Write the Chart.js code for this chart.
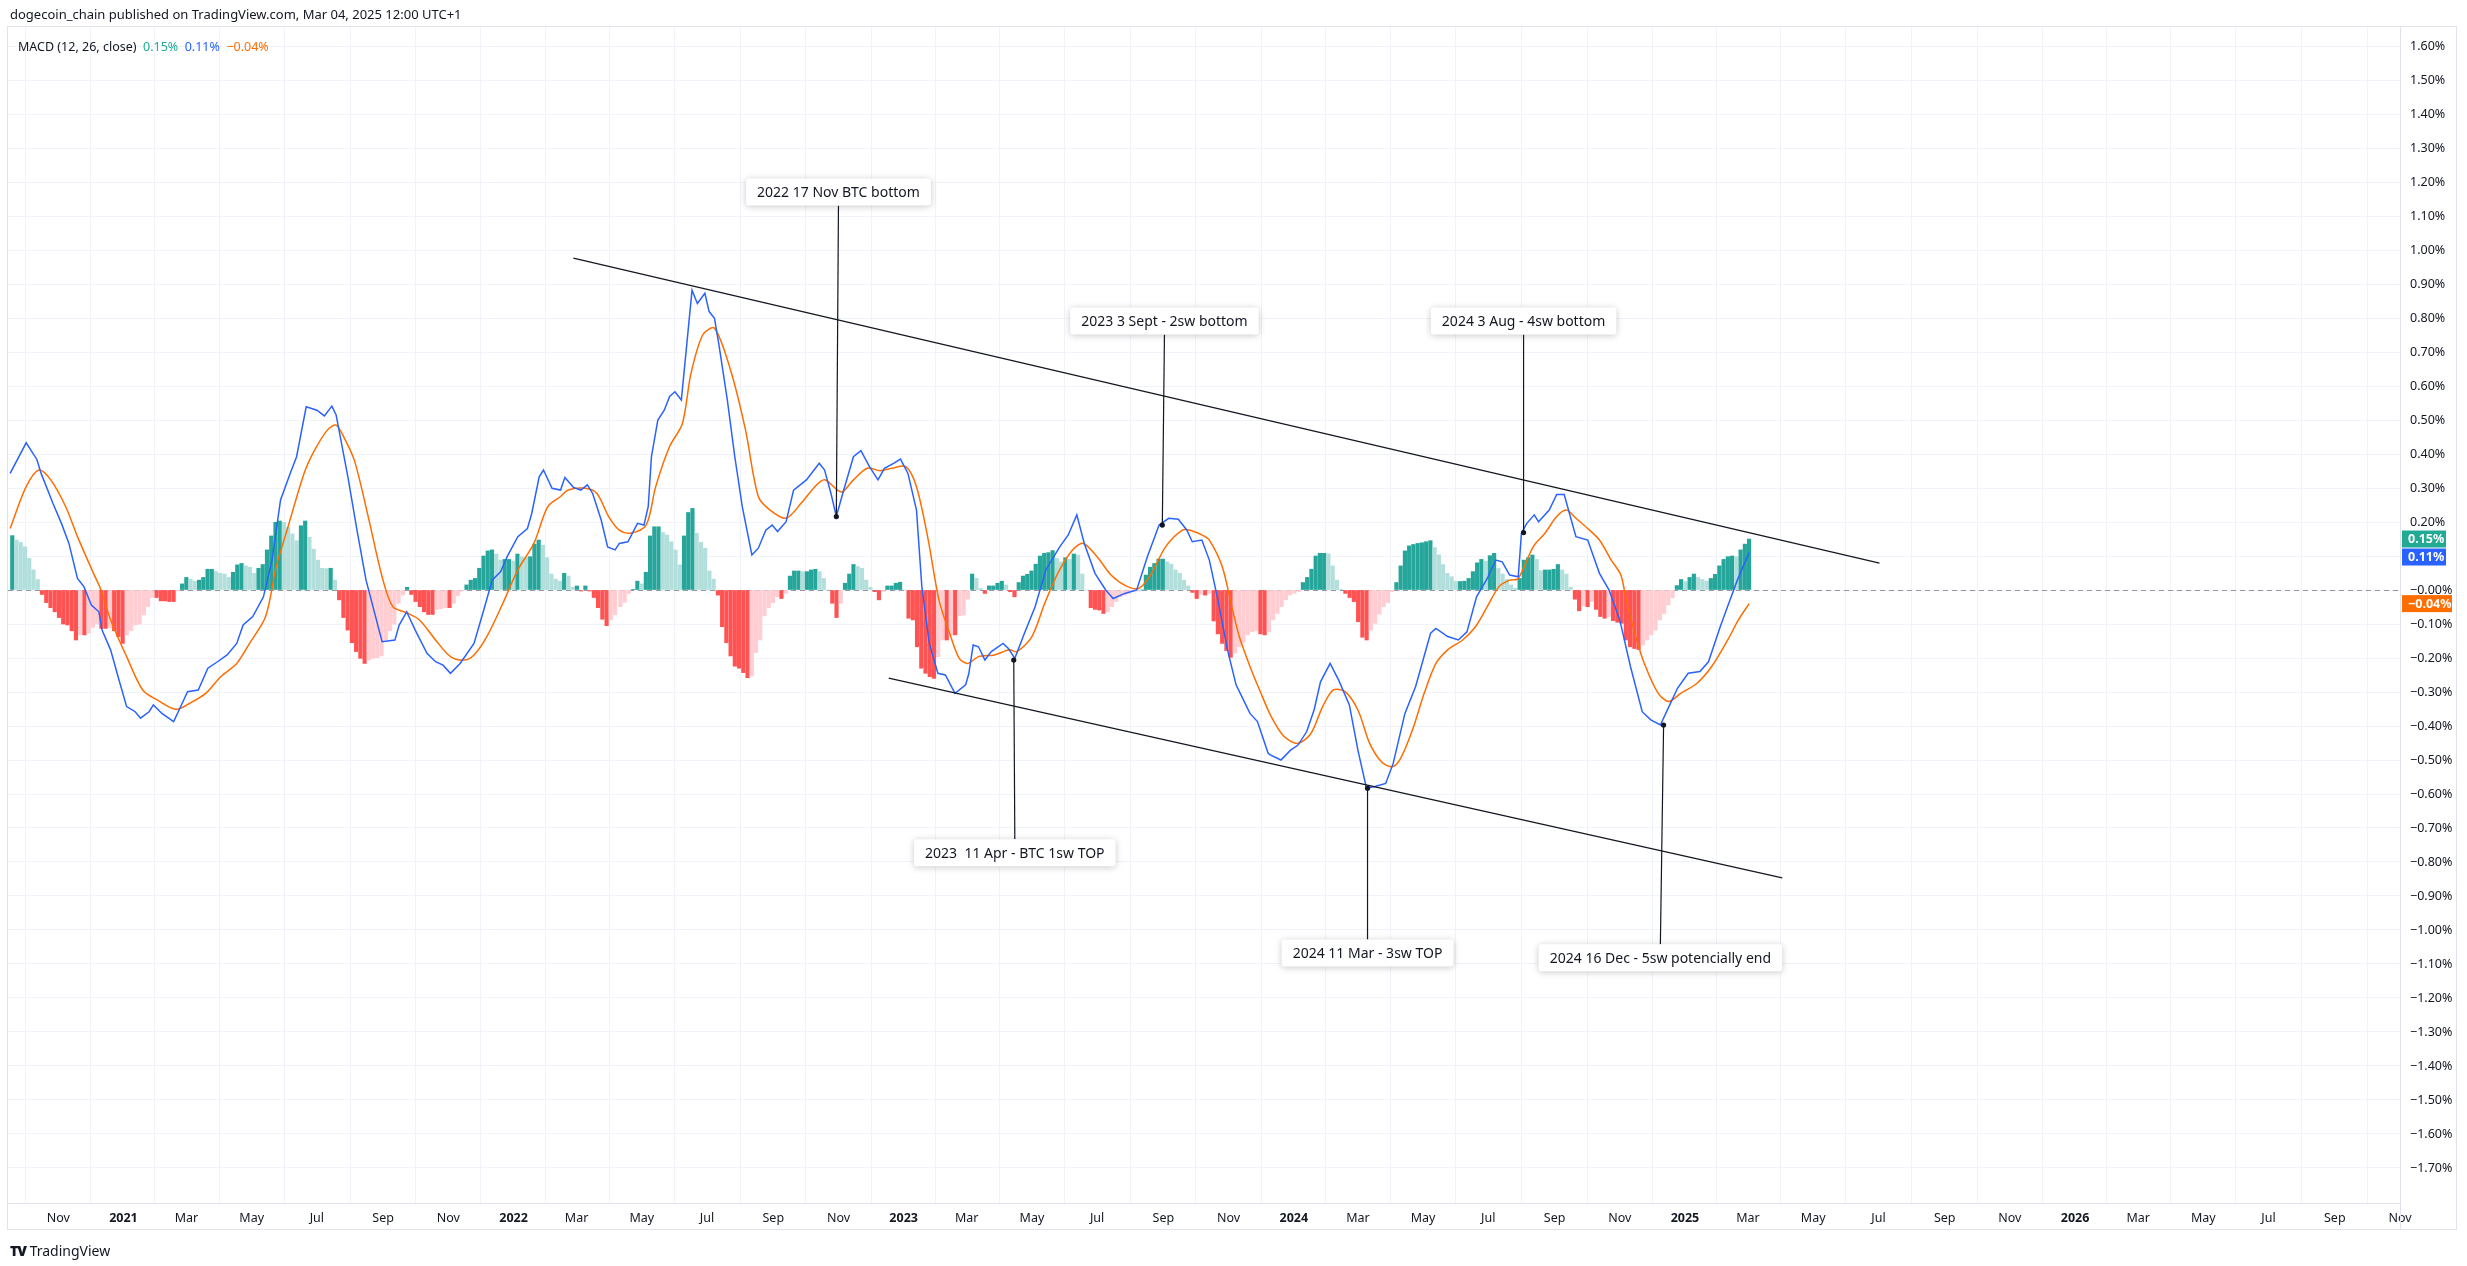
<!DOCTYPE html>
<html><head><meta charset="utf-8">
<script src="https://cdn.jsdelivr.net/npm/chart.js@4.4.1/dist/chart.umd.min.js"></script>
<style>
html,body{margin:0;padding:0;background:#fff;width:2467px;height:1266px;overflow:hidden;font-family:"Noto Sans",sans-serif;color:#131722}
#c{position:absolute;left:0;top:0}
.t{position:absolute;white-space:pre}
</style></head><body>
<canvas id="c" width="2467" height="1266"></canvas>
<div class="t" style="left:10px;top:5px;font-size:13px">dogecoin_chain published on TradingView.com, Mar 04, 2025 12:00 UTC+1</div>
<div class="t" style="left:18px;top:38px;font-size:12.5px">MACD (12, 26, close)  <span style="color:#22ab94">0.15%</span>  <span style="color:#2962ff">0.11%</span>  <span style="color:#ff6d00">−0.04%</span></div>
<div class="t" style="left:10px;top:1241px;font-size:14px"><b style="font-weight:900;letter-spacing:-1px">TV</b> TradingView</div>
<script>
// x values are days counted from 2021-01-01
const tickDays=[-61,0,59,120,181,243,304,365,424,485,546,608,669,730,789,850,911,973,1034,1095,1155,1216,1277,1339,1400,1461,1520,1581,1642,1704,1765,1826,1885,1946,2007,2069,2130];
const tickLabels=["Nov","2021","Mar","May","Jul","Sep","Nov","2022","Mar","May","Jul","Sep","Nov","2023","Mar","May","Jul","Sep","Nov","2024","Mar","May","Jul","Sep","Nov","2025","Mar","May","Jul","Sep","Nov","2026","Mar","May","Jul","Sep","Nov"];

const macdDays=[-106,-91,-81,-77,-66,-58,-51,-43,-37,-30,-23,-20,-12,-5,3,11,16,24,28,36,47,55,60,70,79,88,97,106,112,121,131,139,147,156,162,171,181,188,195,199,210,219,227,242,254,258,265,273,284,292,299,306,315,328,338,345,353,359,369,378,382,389,393,401,409,413,421,428,434,439,447,453,460,464,
472,481,487,491,494,500,506,511,516,522,532,537,544,548,553,557,565,572,579,588,594,601,607,612,620,627,639,651,656,662,667,673,683,690,698,706,712,721,727,734,742,747,754,762,769,778,788,791,795,800,806,812,823,828,834,843,853,863,876,884,892,899,909,919,926,937,948,958,969,978,987,995,1000,1009,1016,
1024,1033,1041,1048,1054,1061,1071,1073,1083,1092,1099,1107,1114,1120,1129,1137,1147,1155,1163,1171,1181,1188,1199,1209,1223,1228,1239,1249,1257,1266,1276,1284,1290,1297,1305,1308,1313,1320,1324,1334,1341,1348,1359,1370,1381,1390,1400,1410,1421,1429,1438,1446,1454,1464,1475,1483,1494,1502,1510,1521];
const macdVals=[.343,.433,.384,.343,.255,.196,.137,.034,.01,-.044,-.064,-.118,-.176,-.255,-.343,-.358,-.377,-.358,-.338,-.363,-.387,-.333,-.299,-.294,-.230,-.211,-.191,-.157,-.103,-.078,-.02,.088,.265,.343,.392,.539,.529,.512,.541,.515,.333,.167,.029,-.152,-.147,-.103,-.064,-.118,-.186,-.211,-.221,-.245,-.216,-.157,-.049,.029,.054,.098,.157,.181,.225,.333,.353,.299,.294,.331,.302,.294,.309,.284,.206,.127,.118,.137,
.142,.196,.191,.245,.392,.5,.529,.569,.583,.559,.882,.843,.873,.819,.799,.725,.559,.392,.245,.103,.123,.176,.191,.172,.201,.294,.324,.373,.353,.284,.216,.284,.392,.410,.363,.324,.358,.373,.385,.343,.235,.01,-.157,-.245,-.250,-.304,-.279,-.245,-.162,-.167,-.206,-.181,-.157,-.172,-.201,-.127,-.049,.059,.127,.162,.221,.137,.049,0,-.025,-.01,0,.098,.191,.211,.208,.176,.142,.147,.088,
-.029,-.176,-.279,-.324,-.363,-.387,-.480,-.485,-.5,-.471,-.456,-.417,-.353,-.270,-.216,-.265,-.338,-.471,-.583,-.578,-.569,-.510,-.363,-.284,-.127,-.113,-.137,-.147,-.123,-.020,.034,.088,.083,.044,.039,.167,.196,.221,.201,.235,.281,.281,.157,.147,.049,0,-.088,-.225,-.358,-.382,-.397,-.343,-.289,-.245,-.240,-.211,-.108,-.039,.029,.11];

const signalDays=[-106,-91,-79,-68,-54,-43,-28,-21,-12,3,18,32,49,62,77,91,106,118,133,143,154,169,179,191,199,206,216,229,242,252,265,277,292,306,319,328,340,355,369,384,397,409,416,432,443,454,464,
474,489,498,511,523,531,542,553,568,582,594,605,620,634,647,656,668,673,683,696,708,719,732,742,753,763,773,782,790,800,815,829,836,850,862,875,888,898,911,924,938,950,961,975,990,998,1009,1016,
1028,1037,1044,1054,1063,1074,1086,1099,1111,1122,1132,1143,1155,1166,1177,1187,1195,1206,1217,1228,1239,1253,1265,1276,1287,1297,1305,1319,1330,1341,1350,1359,1370,1381,1392,1401,1406,1414,1423,1436,1446,1457,1472,1486,1501,1511,1521];
const signalVals=[.181,.304,.353,.324,.245,.157,.049,0,-.088,-.196,-.294,-.324,-.351,-.333,-.304,-.255,-.216,-.157,-.078,.069,.186,.343,.412,.471,.485,.451,.382,.216,.039,-.049,-.067,-.088,-.147,-.196,-.206,-.191,-.137,-.039,.059,.137,.245,.275,.294,.299,.284,.216,.176,
.167,.191,.304,.422,.490,.637,.75,.770,.647,.471,.275,.235,.211,.255,.304,.324,.294,.289,.324,.358,.351,.358,.363,.304,.147,-.029,-.127,-.201,-.216,-.196,-.191,-.176,-.181,-.137,-.039,.054,.118,.137,.098,.044,.012,.005,.044,.127,.175,.176,.162,.147,
.069,-.049,-.137,-.225,-.294,-.373,-.431,-.451,-.422,-.343,-.294,-.299,-.353,-.451,-.505,-.520,-.495,-.412,-.304,-.216,-.176,-.147,-.108,-.049,.010,.029,.034,.127,.167,.216,.235,.211,.181,.147,.088,.044,-.029,-.127,-.216,-.304,-.328,-.304,-.275,-.225,-.147,-.088,-.04];

// histogram: three runs of evenly spaced bars (first day, last day, values)
const histA=[.16,.147,.14,.127,.093,.059,.031,
-.013,-.037,-.052,-.064,-.081,-.10,-.103,-.12,-.147,
-.132,-.132,-.127,-.11,-.10,-.113,-.113,-.11,-.12,
-.137,-.157,-.132,-.12,-.103,-.10,-.073,-.049,-.022,-.022,
-.032,-.032,-.034,-.034,-.003,.018,.037,.032,.026,.029,
.037,.061,.061,.054,.049,.047,.037,.052,.074,.078,
.071,.067,.049,.064,.075,.118,.159,.199,.203,.199,
.184,.165,.145,.189,.203,.155,.12,.088,.064,.063,
.064,.029,-.029,-.081,-.118,-.155,-.181,-.201,-.216,-.206,
-.201,-.199,-.194,-.147,-.12,-.10,-.039,-.015,.008,-.013,
-.034,-.049,-.064,-.072,-.072,-.057,-.055,-.052,-.052,-.039,
-.017,-.003,.015,.029,.034,.064,.10,.115,.118,.106,
.088,.09,.09,.085,.106,.098,.096,.098,.135,.147,
.132,.095,.047,.032,.026,.049,.041,.008,.012,-.003,
.012,-.003,-.022,-.052,-.086,-.105,-.088,-.073];
const histADays=[-104,460];
const histB=[-.049,-.036,-.01,.002,.026,.018,.052,.159,.186,.186,
.169,.162,.142,.118,.074,.159,.228,.24,.167,.14,
.123,.056,.032,-.015,-.108,-.155,-.194,-.224,-.23,-.243,
-.258,-.253,-.184,-.147,-.076,-.052,-.037,-.02,-.025,-.01,
.041,.056,.056,.054,.054,.059,.061,.054,.034,0,
-.039,-.081,-.039,.02,.047,.075,.069,.064,.029,.008,
-.005,-.029,-.004,.012,.012,.02,.023,0,-.083,-.088,
-.167,-.23,-.245,-.255,-.26,-.196,-.147,-.147,-.132,-.132,
-.076,-.074,-.027,.047,.034,.005,-.01,.012,.012,.02,
.026,.015,-.005,-.02,.022,.041,.046,.056,.076,.10,
.108,.11,.116,.093,.083,.095,.09,.106,.103,.047,
0,-.052,-.057,-.059,-.069,-.064,-.049,-.034,-.02,-.015,
-.01,-.005,-.003,0,.044,.067,.078,.091,.091,.083,
.076,.059,.049,.029,.012,-.007,-.025,-.013,-.015,-.01,
-.091,-.129];
const histBDays=[465,1024];
const histC=[-.157,-.178,-.198,-.186,-.167,-.154,-.132,-.123,-.120,-.129,
-.132,-.123,-.088,-.069,-.049,-.029,-.015,-.01,-.005,.022,
.037,.061,.10,.108,.108,.106,.071,.029,.002,-.01,
-.022,-.034,-.093,-.139,-.147,-.118,-.098,-.071,-.049,-.037,
-.005,.022,.071,.115,.130,.134,.137,.139,.142,.145,
.125,.103,.075,.049,.039,.025,.025,.026,.034,.054,
.080,.090,.085,.101,.108,.064,.047,.031,.015,.005,
.034,.088,.095,.103,.090,.057,.059,.059,.061,.075,
.059,.047,.008,-.027,-.061,-.047,-.049,-.034,-.057,-.078,
-.083,-.078,-.090,-.095,-.098,-.147,-.167,-.172,-.175,-.162,
-.147,-.132,-.118,-.088,-.069,-.044,-.023,.013,.031,.025,
.037,.047,.037,.031,.026,.034,.046,.071,.090,.098,
.10,.098,.118,.135,.15];
const histCDays=[1028,1521];

// trend lines [day, value] pairs
const upperTrend=[[421,.976],[1643,.079]];
const lowerTrend=[[716,-.259],[1552,-.847]];
// annotations: text, label day, label value, point day, point value
const noteTexts=["2022 17 Nov BTC bottom","2023 3 Sept - 2sw bottom","2024 3 Aug - 4sw bottom","2023  11 Apr - BTC 1sw TOP","2024 11 Mar - 3sw TOP","2024 16 Dec - 5sw potencially end"];
const noteLabelDays=[669,974,1310,834,1164,1438];
const noteLabelVals=[1.171,.791,.791,-.773,-1.068,-1.082];
const notePointDays=[667,972,1310,833,1164,1441];
const notePointVals=[.216,.191,.169,-.206,-.583,-.397];
const lastVals={hist:.15,macd:.11,signal:-.04};

const C_UP='#26a69a',C_UPL='#b2dfdb',C_DN='#ff5252',C_DNL='#ffcdd2';
function pts(d,v){return d.map((x,i)=>({x,y:v[i]}));}
const histPts=[];
[[histA,histADays],[histB,histBDays],[histC,histCDays]].forEach(([vals,[s,e]])=>{
  const st=(e-s)/(vals.length-1);
  vals.forEach((v,i)=>histPts.push({x:s+i*st,y:v}));
});
const histColors=histPts.map((p,i)=>{
  const prev=i>0?histPts[i-1].y:p.y;
  if(p.y>=0) return p.y>=prev?C_UP:C_UPL;
  return p.y<=prev?C_DN:C_DNL;
});
const FONT='"Noto Sans", sans-serif';
function fmt(v){const s=Math.abs(v).toFixed(2)+'%';return v<0?'\u2212'+s:s;}

const deco={
  id:'deco',
  beforeDatasetsDraw(ch){
    const {ctx,chartArea:a,scales:{x,y}}=ch;
    ctx.save();
    ctx.strokeStyle='#9598a1';ctx.lineWidth=1;ctx.setLineDash([5,4]);
    const y0=Math.round(y.getPixelForValue(0))+0.5;
    ctx.beginPath();ctx.moveTo(a.left,y0);ctx.lineTo(a.right,y0);ctx.stroke();
    ctx.restore();
  },
  afterDatasetsDraw(ch){
    const {ctx,chartArea:a,scales:{x,y}}=ch;
    ctx.save();
    ctx.beginPath();ctx.rect(a.left,a.top,a.right-a.left,a.bottom-a.top);ctx.clip();
    ctx.strokeStyle='#131722';ctx.lineWidth=1.3;
    [upperTrend,lowerTrend].forEach(t=>{
      ctx.beginPath();ctx.moveTo(x.getPixelForValue(t[0][0]),y.getPixelForValue(t[0][1]));
      ctx.lineTo(x.getPixelForValue(t[1][0]),y.getPixelForValue(t[1][1]));ctx.stroke();
    });
    ctx.font='14px '+FONT;
    noteTexts.forEach((txt,i)=>{
      const lx=x.getPixelForValue(noteLabelDays[i]),ly=y.getPixelForValue(noteLabelVals[i]);
      const px=x.getPixelForValue(notePointDays[i]),py=y.getPixelForValue(notePointVals[i]);
      const w=ctx.measureText(txt).width+22,h=27;
      const above=ly<py;
      ctx.strokeStyle='#131722';ctx.lineWidth=1.2;
      ctx.beginPath();ctx.moveTo(lx,above?ly+h/2:ly-h/2);ctx.lineTo(px,py);ctx.stroke();
      ctx.fillStyle='#131722';ctx.beginPath();ctx.arc(px,py,2.6,0,Math.PI*2);ctx.fill();
      ctx.save();ctx.shadowColor='rgba(0,0,0,0.22)';ctx.shadowBlur=7;ctx.shadowOffsetY=1;
      ctx.fillStyle='#fff';ctx.beginPath();ctx.roundRect(lx-w/2,ly-h/2,w,h,3);ctx.fill();ctx.restore();
      ctx.fillStyle='#131722';ctx.textAlign='center';ctx.textBaseline='middle';ctx.fillText(txt,lx,ly+1);
    });
    ctx.restore();
  },
  afterDraw(ch){
    const {ctx,chartArea:a,scales:{y}}=ch;
    ctx.save();
    ctx.strokeStyle='#e0e3eb';ctx.lineWidth=1;
    ctx.strokeRect(a.left-0.5,a.top-0.5,2457-a.left,1230-a.top);
    ctx.beginPath();ctx.moveTo(a.right+0.5,a.top);ctx.lineTo(a.right+0.5,1230);ctx.moveTo(a.left,a.bottom+0.5);ctx.lineTo(a.right,a.bottom+0.5);ctx.stroke();
    const yt=y.getPixelForValue(lastVals.hist);
    const ym=Math.max(y.getPixelForValue(lastVals.macd),yt+18);
    const ys=y.getPixelForValue(lastVals.signal);
    const badges=[[yt,'#22ab94',fmt(lastVals.hist),44],[ym,'#2962ff',fmt(lastVals.macd),44],[ys,'#ff6d00',fmt(lastVals.signal),50]];
    ctx.font='bold 12.5px '+FONT;ctx.textBaseline='middle';ctx.textAlign='left';
    badges.forEach(([yy,c,t,w])=>{
      ctx.fillStyle=c;ctx.fillRect(a.right+2,yy-8.5,w,17);
      ctx.fillStyle='#fff';ctx.fillText(t,a.right+8,yy+0.5);
    });
    ctx.restore();
  }
};

new Chart(document.getElementById('c'),{
  data:{datasets:[
    {type:'line',data:pts(macdDays,macdVals),borderColor:'#2962ff',borderWidth:1.5,pointRadius:0,tension:0,order:1},
    {type:'line',data:pts(signalDays,signalVals),borderColor:'#ff6d00',borderWidth:1.5,pointRadius:0,tension:0.3,order:2},
    {type:'bar',data:histPts,backgroundColor:histColors,barThickness:3.5,grouped:false,order:3}
  ]},
  options:{
    responsive:false,animation:false,devicePixelRatio:1,
    layout:{padding:{left:8,top:27,right:10,bottom:36}},
    plugins:{legend:{display:false},tooltip:{enabled:false}},
    scales:{
      x:{type:'linear',min:-108,max:2130,offset:false,
        border:{display:false},
        grid:{color:'#f0f3fa',drawTicks:false},
        afterBuildTicks:s=>{s.ticks=tickDays.map(v=>({value:v}));},
        afterFit:s=>{s.height=27;},
        ticks:{autoSkip:false,maxRotation:0,padding:8,color:'#131722',
          callback:(v)=>tickLabels[tickDays.indexOf(v)],
          font:c=>({family:FONT,size:12.5,weight:(c.tick&&/^\d{4}$/.test(c.tick.label))?'bold':'normal'})}},
      y:{type:'linear',position:'right',min:-1.803,max:1.656,
        border:{display:false},
        grid:{color:'#f0f3fa',drawTicks:false},
        afterBuildTicks:s=>{const t=[];for(let i=-17;i<=16;i++)t.push({value:i/10});s.ticks=t;},
        afterFit:s=>{s.width=57;},
        ticks:{padding:10,color:'#131722',font:{family:FONT,size:12.5},
          callback:v=>{const r=Math.round(v*100)/100;return (r<=0?'\u2212':'')+Math.abs(r).toFixed(2)+'%';}}}
    }
  },
  plugins:[deco]
});
</script>
</body></html>
